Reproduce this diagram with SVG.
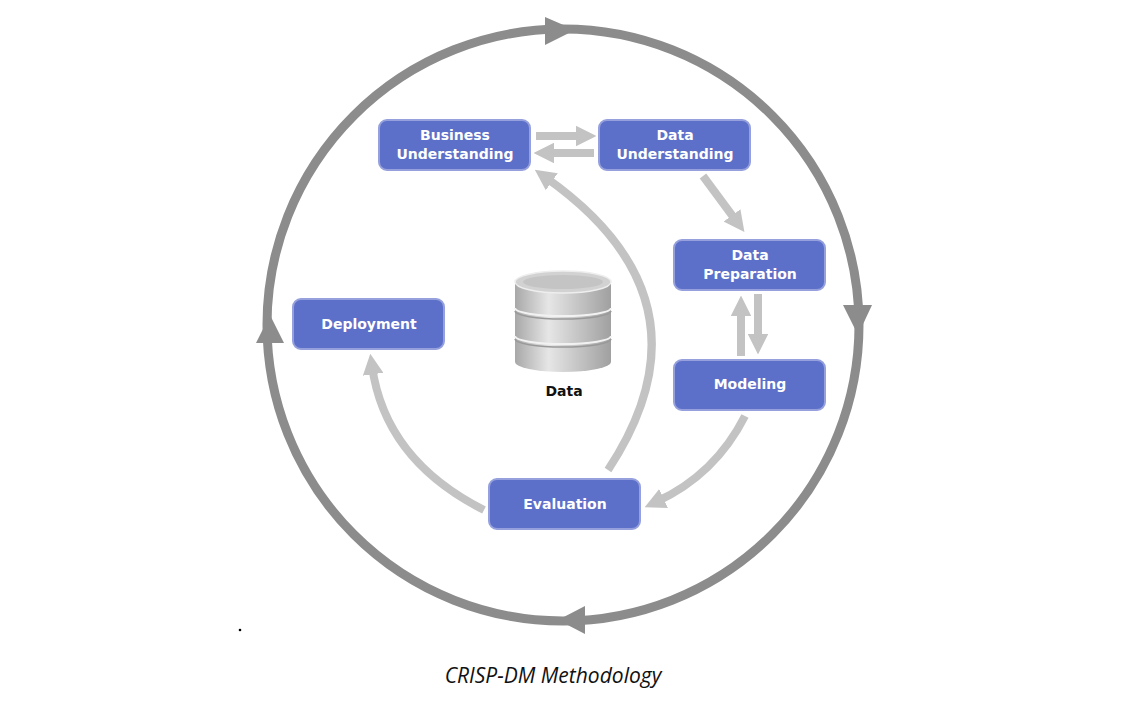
<svg xmlns="http://www.w3.org/2000/svg" width="1130" height="713" viewBox="0 0 1130 713">
<defs>
<style>
.box{fill:#5c6fc9;stroke:#95a0dc;stroke-width:2}
.lbl{font-family:"DejaVu Sans",sans-serif;font-weight:bold;font-size:14px;fill:#fff;text-anchor:middle}
.conn{fill:none;stroke:#c3c3c3;stroke-width:8;marker-end:url(#ah)}
.cyc{fill:#8c8c8c}
</style>
<marker id="ah" viewBox="0 0 10 10" refX="4" refY="5" markerWidth="2.6" markerHeight="2.6" orient="auto" markerUnits="strokeWidth">
<path d="M0,0 L10,5 L0,10 z" fill="#c3c3c3"/>
</marker>
<linearGradient id="cyl" x1="0" x2="1" y1="0" y2="0">
<stop offset="0" stop-color="#a8a8a8"/><stop offset="0.35" stop-color="#e6e6e6"/><stop offset="1" stop-color="#a0a0a0"/>
</linearGradient>
</defs>
<rect width="1130" height="713" fill="#fff"/>
<g id="cycle">
<circle cx="563" cy="325" r="296" fill="none" stroke="#8c8c8c" stroke-width="9"/>
<path class="cyc" d="M545,17 L575,30 L545,45 z"/>
<path class="cyc" d="M843,305 L872,305 L858,335 z"/>
<path class="cyc" d="M585,606 L585,634 L558,620 z"/>
<path class="cyc" d="M256,343 L284,343 L270,315 z"/>
</g>
<g id="connectors">
<line class="conn" x1="536" y1="136" x2="584" y2="136"/>
<line class="conn" x1="594" y1="153" x2="546" y2="153"/>
<line class="conn" x1="703" y1="176" x2="737" y2="222"/>
<line class="conn" x1="741" y1="356" x2="741" y2="308"/>
<line class="conn" x1="758" y1="294" x2="758" y2="342"/>
<path class="conn" d="M745,416 Q715,475 656,502"/>
<path class="conn" d="M608,470 Q720,300 545,177"/>
<path class="conn" d="M484,510 Q385,460 372,366"/>
</g>
<g id="business"><rect class="box" x="379" y="120" width="151" height="50" rx="8"/><text class="lbl" x="455" y="140">Business</text><text class="lbl" x="455" y="159">Understanding</text></g>
<g id="dataunder"><rect class="box" x="599" y="120" width="151" height="50" rx="8"/><text class="lbl" x="675" y="140">Data</text><text class="lbl" x="675" y="159">Understanding</text></g>
<g id="dataprep"><rect class="box" x="674" y="240" width="151" height="50" rx="8"/><text class="lbl" x="750" y="260">Data</text><text class="lbl" x="750" y="279">Preparation</text></g>
<g id="deployment"><rect class="box" x="293" y="299" width="151" height="50" rx="8"/><text class="lbl" x="369" y="329">Deployment</text></g>
<g id="modeling"><rect class="box" x="674" y="360" width="151" height="50" rx="8"/><text class="lbl" x="750" y="389">Modeling</text></g>
<g id="evaluation"><rect class="box" x="489" y="479" width="151" height="50" rx="8"/><text class="lbl" x="565" y="509">Evaluation</text></g>
<g id="data">
<path d="M515,282 L515,362 A48,10 0 0 0 611,362 L611,282 z" fill="url(#cyl)"/>
<path d="M515,308 A48,8 0 0 0 611,308 M515,336 A48,8 0 0 0 611,336" fill="none" stroke="#f2f2f2" stroke-width="2"/>
<path d="M515,311 A48,8 0 0 0 611,311 M515,339 A48,8 0 0 0 611,339" fill="none" stroke="#999" stroke-width="1.5"/>
<ellipse cx="563" cy="282" rx="48" ry="11" fill="#d2d2d2" stroke="#eee" stroke-width="1.5"/>
<ellipse cx="563" cy="282" rx="40" ry="7" fill="#c4c4c4"/>
<text x="564" y="396" font-family="DejaVu Sans,sans-serif" font-weight="bold" font-size="14" text-anchor="middle" fill="#111">Data</text>
</g>
<circle cx="240" cy="630" r="1.3" fill="#000"/>
<text x="553" y="683" font-family="Open Sans,sans-serif" font-style="italic" font-size="21" text-anchor="middle" fill="#111">CRISP-DM Methodology</text>
</svg>
